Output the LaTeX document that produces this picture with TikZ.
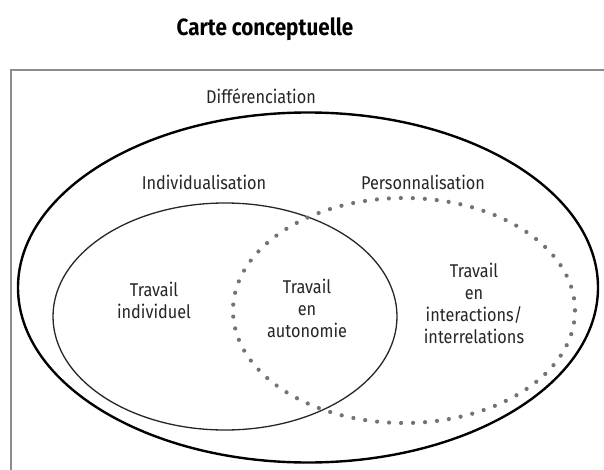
\documentclass[tikz,border=0pt]{standalone}
\usepackage{fontspec}
\setmainfont{Fira Sans}[FakeStretch=0.88]
\begin{document}
\begin{tikzpicture}[x=1pt,y=-1pt,
  lbl/.style={text=black!85, font=\fontsize{18.5}{22}\selectfont, align=center, inner sep=0pt},
  ttl/.style={text=black, font=\fontsize{23.5}{28}\selectfont\bfseries, inner sep=0pt},
  frame/.style={draw=black!45, line width=1.5pt},
  outer/.style={draw=black, line width=2.4pt},
  solidell/.style={draw=black!85, line width=1.3pt},
  dotell/.style={draw=black!55, line width=4.2pt, line cap=round, dash pattern=on 0pt off 12pt}]
\useasboundingbox (0,0) rectangle (604,470);
\fill[white] (0,0) rectangle (604,470);
\draw[frame] (11,480) -- (11,70) -- (610,70);
\node[ttl] (title) at (265,29) {Carte conceptuelle};
\node[lbl] (diff) at (261,96) {Différenciation};
\draw[outer] (308,287.5) ellipse [x radius=290, y radius=175];
\draw[solidell] (225,316.5) ellipse [x radius=172, y radius=113.5];
\draw[dotell] (404,310.5) ellipse [x radius=171, y radius=112.5];
\node[lbl] (indiv) at (204,182) {Individualisation};
\node[lbl] (perso) at (423,182) {Personnalisation};
\node[lbl] (ti) at (154,300) {Travail\\individuel};
\node[lbl] (ta) at (307,308) {Travail\\en\\autonomie};
\node[lbl] (tr) at (474,303) {Travail\\en\\interactions/\\interrelations};
\end{tikzpicture}
\end{document}
